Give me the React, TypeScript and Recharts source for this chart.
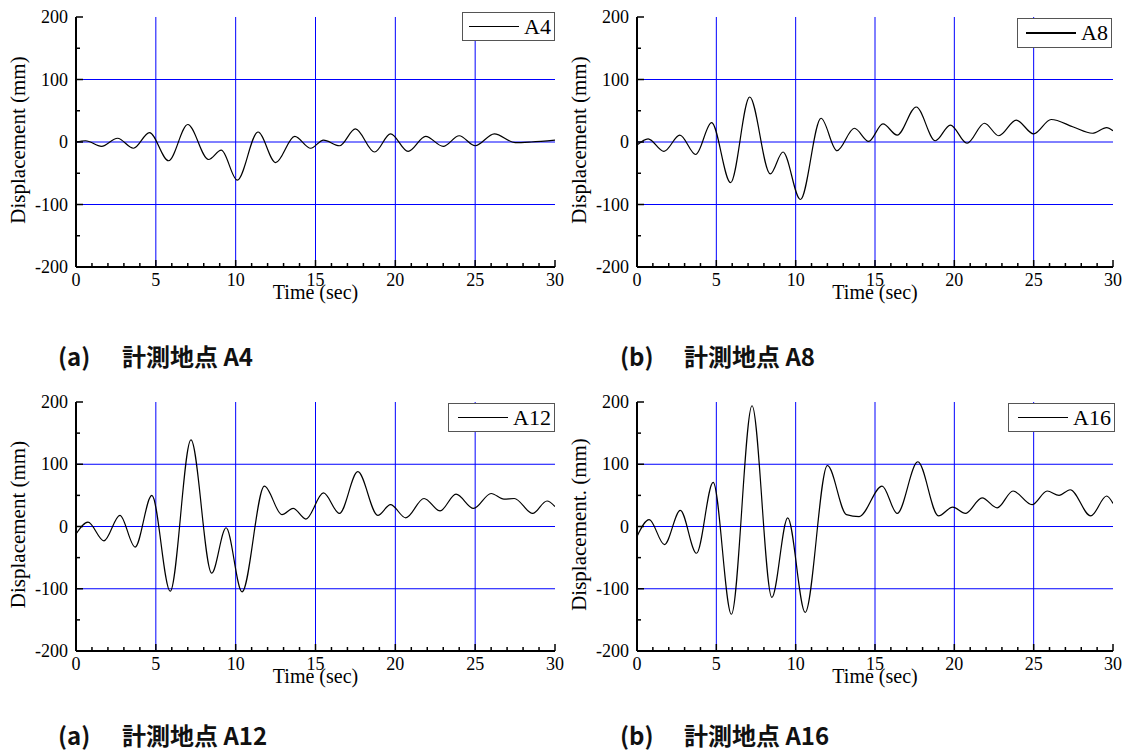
import React from 'react';
import { LineChart, Line, XAxis, YAxis, ReferenceLine } from 'recharts';

// time (sec) / displacement (mm)
const A4_T = [0, 0.6, 1.6, 2.6, 3.6, 4.6, 5.8, 7.0, 8.3, 9.1, 10.1, 11.4, 12.5, 13.7, 14.7, 15.5, 16.5, 17.5, 18.7, 19.7, 20.8, 21.9, 23.0, 24.0, 25.0, 26.2, 27.5, 28.5, 30];
const A4_V = [0, 2, -7, 6, -10, 15, -30, 28, -28, -13, -61, 16, -33, 9, -10, 3, -6, 21, -16, 13, -15, 9, -7, 10, -6, 13, -1, 0, 3];

const A8_T = [0, 0.7, 1.7, 2.7, 3.7, 4.7, 5.9, 7.1, 8.4, 9.2, 10.3, 11.6, 12.6, 13.7, 14.6, 15.5, 16.4, 17.6, 18.8, 19.75, 20.8, 21.9, 22.8, 23.9, 25.0, 26.1, 27.5, 28.7, 29.6, 30];
const A8_V = [-5, 5, -15, 11, -20, 31, -65, 72, -51, -16, -92, 38, -14, 22, 1, 29, 11, 56, 2, 27, -2, 30, 10, 35, 13, 36, 24, 14, 23, 18];

const A12_T = [0, 0.75, 1.75, 2.75, 3.7, 4.75, 5.9, 7.2, 8.5, 9.4, 10.4, 11.8, 12.9, 13.6, 14.4, 15.5, 16.5, 17.65, 18.9, 19.7, 20.65, 21.8, 22.8, 23.8, 24.9, 26.0, 26.8, 27.45, 28.6, 29.5, 30];
const A12_V = [-12, 7, -23, 18, -33, 50, -104, 139, -75, -2, -105, 65, 19, 29, 12, 54, 21, 88, 18, 35, 14, 45, 25, 52, 29, 53, 44, 45, 21, 41, 32];

const A16_T = [0, 0.77, 1.73, 2.73, 3.75, 4.8, 5.95, 7.25, 8.5, 9.5, 10.6, 12.0, 13.2, 14.0, 15.45, 16.4, 17.7, 19.0, 19.9, 20.7, 21.75, 22.7, 23.7, 24.9, 25.85, 26.6, 27.3, 28.6, 29.6, 30];
const A16_V = [-16, 11, -29, 26, -43, 71, -141, 194, -114, 14, -138, 98, 19, 16, 65, 21, 104, 17, 31, 21, 46, 30, 57, 35, 57, 50, 59, 17, 49, 37];

const X_TICKS = Array.from({ length: 31 }, (_, i) => i);
const Y_TICKS = [-200, -150, -100, -50, 0, 50, 100, 150, 200];
const X_GRID = [5, 10, 15, 20, 25];
const Y_GRID = [-100, 0, 100];

const BLUE = '#0000ff';
const SERIF = "'Liberation Serif', 'Times New Roman', serif";
const CJK = "'Noto Sans CJK JP', 'Noto Sans', sans-serif";

const XTick = ({ x, y, payload }: any) => {
  const major = payload.value % 5 === 0;
  return (
    <g>
      <line x1={x} x2={x} y1={y} y2={y - (major ? 7 : 4)} stroke="#000" strokeWidth={1.5} />
      {major && (
        <text x={x} y={y + 19} textAnchor="middle" fontFamily={SERIF} fontSize={18} fill="#000">
          {payload.value}
        </text>
      )}
    </g>
  );
};

const YTick = ({ x, y, payload }: any) => {
  const major = payload.value % 100 === 0;
  return (
    <g>
      <line x1={x} x2={x + (major ? 7 : 4)} y1={y} y2={y} stroke="#000" strokeWidth={1.5} />
      {major && (
        <text x={x - 8} y={y + 6} textAnchor="end" fontFamily={SERIF} fontSize={18} fill="#000">
          {payload.value}
        </text>
      )}
    </g>
  );
};

function Panel({ left, top, w, h, t, v, name, yTitle, legend }: any) {
  const data = t.map((x: number, i: number) => ({ t: x, v: v[i] }));
  const cy = 17 + h / 2 - 2;
  return (
    <div style={{ position: 'absolute', left: left - 76, top: top - 17 }}>
      <LineChart width={w + 86} height={h + 57} data={data} margin={{ top: 17, right: 10, bottom: 0, left: 16 }}>
        {X_GRID.map((g) => (
          <ReferenceLine key={'x' + g} x={g} stroke={BLUE} strokeWidth={1} />
        ))}
        {Y_GRID.map((g) => (
          <ReferenceLine key={'y' + g} y={g} stroke={BLUE} strokeWidth={1} />
        ))}
        <XAxis
          type="number"
          dataKey="t"
          domain={[0, 30]}
          ticks={X_TICKS}
          interval={0}
          tickSize={0}
          tickMargin={0}
          tick={XTick}
          height={40}
          axisLine={{ stroke: '#000', strokeWidth: 2 }}
          allowDataOverflow
          label={() => (
            <text x={76 + w / 2} y={17 + h + 32} textAnchor="middle" fontFamily={SERIF} fontSize={20} fill="#000">
              Time (sec)
            </text>
          )}
        />
        <YAxis
          type="number"
          domain={[-200, 200]}
          ticks={Y_TICKS}
          interval={0}
          tickSize={0}
          tickMargin={0}
          tick={YTick}
          width={60}
          axisLine={{ stroke: '#000', strokeWidth: 2 }}
          allowDataOverflow
          label={() => (
            <text
              x={18}
              y={cy}
              transform={`rotate(-90 18 ${cy})`}
              textAnchor="middle"
              dominantBaseline="central"
              fontFamily={SERIF}
              fontSize={21}
              fill="#000"
            >
              {yTitle}
            </text>
          )}
        />
        <Line dataKey="v" type="monotone" stroke="#000" strokeWidth={1.2} dot={false} isAnimationActive={false} />
      </LineChart>
      <div
        style={{
          position: 'absolute',
          left: legend.left - left + 76,
          top: legend.top - top + 17,
          width: legend.w,
          height: legend.h,
          boxSizing: 'border-box',
          border: '1.5px solid #555',
          background: '#fff',
          display: 'flex',
          alignItems: 'center',
          justifyContent: 'flex-end',
          paddingRight: 3,
        }}
      >
        <div style={{ width: 50, height: 1.2, background: '#000', marginRight: 5 }} />
        <span style={{ fontFamily: SERIF, fontSize: 22, lineHeight: 1 }}>{name}</span>
      </div>
    </div>
  );
}

export default function App() {
  return (
    <div style={{ position: 'absolute', left: 0, top: 0, width: 1131, height: 753, background: '#fff', overflow: 'hidden' }}>
      <Panel left={76} top={17} w={479} h={250} t={A4_T} v={A4_V} name="A4" yTitle="Displacement (mm)"
        legend={{ left: 462, top: 12, w: 93, h: 29 }} />
      <Panel left={637} top={17} w={476} h={250} t={A8_T} v={A8_V} name="A8" yTitle="Displacement (mm)"
        legend={{ left: 1017, top: 18, w: 95, h: 30 }} />
      <Panel left={76} top={402} w={479} h={249} t={A12_T} v={A12_V} name="A12" yTitle="Displacement (mm)"
        legend={{ left: 448, top: 403, w: 107, h: 29 }} />
      <Panel left={637} top={402} w={476} h={249} t={A16_T} v={A16_V} name="A16" yTitle="Displacement. (mm)"
        legend={{ left: 1008, top: 403, w: 107, h: 29 }} />
      <svg width={1131} height={753} style={{ position: 'absolute', left: 0, top: 0, pointerEvents: 'none' }}>
        {[
          { x: 58, y: 355, tag: '(a)', label: '計測地点 A4' },
          { x: 620, y: 355, tag: '(b)', label: '計測地点 A8' },
          { x: 58, y: 734, tag: '(a)', label: '計測地点 A12' },
          { x: 620, y: 734, tag: '(b)', label: '計測地点 A16' },
        ].map((c) => (
          <g key={c.label} fontFamily={CJK} fontSize={24} fontWeight={700} fill="#111">
            <text x={c.x} y={c.y} dominantBaseline="central">{c.tag}</text>
            <text x={c.x + 64} y={c.y} dominantBaseline="central">{c.label}</text>
          </g>
        ))}
      </svg>
    </div>
  );
}
